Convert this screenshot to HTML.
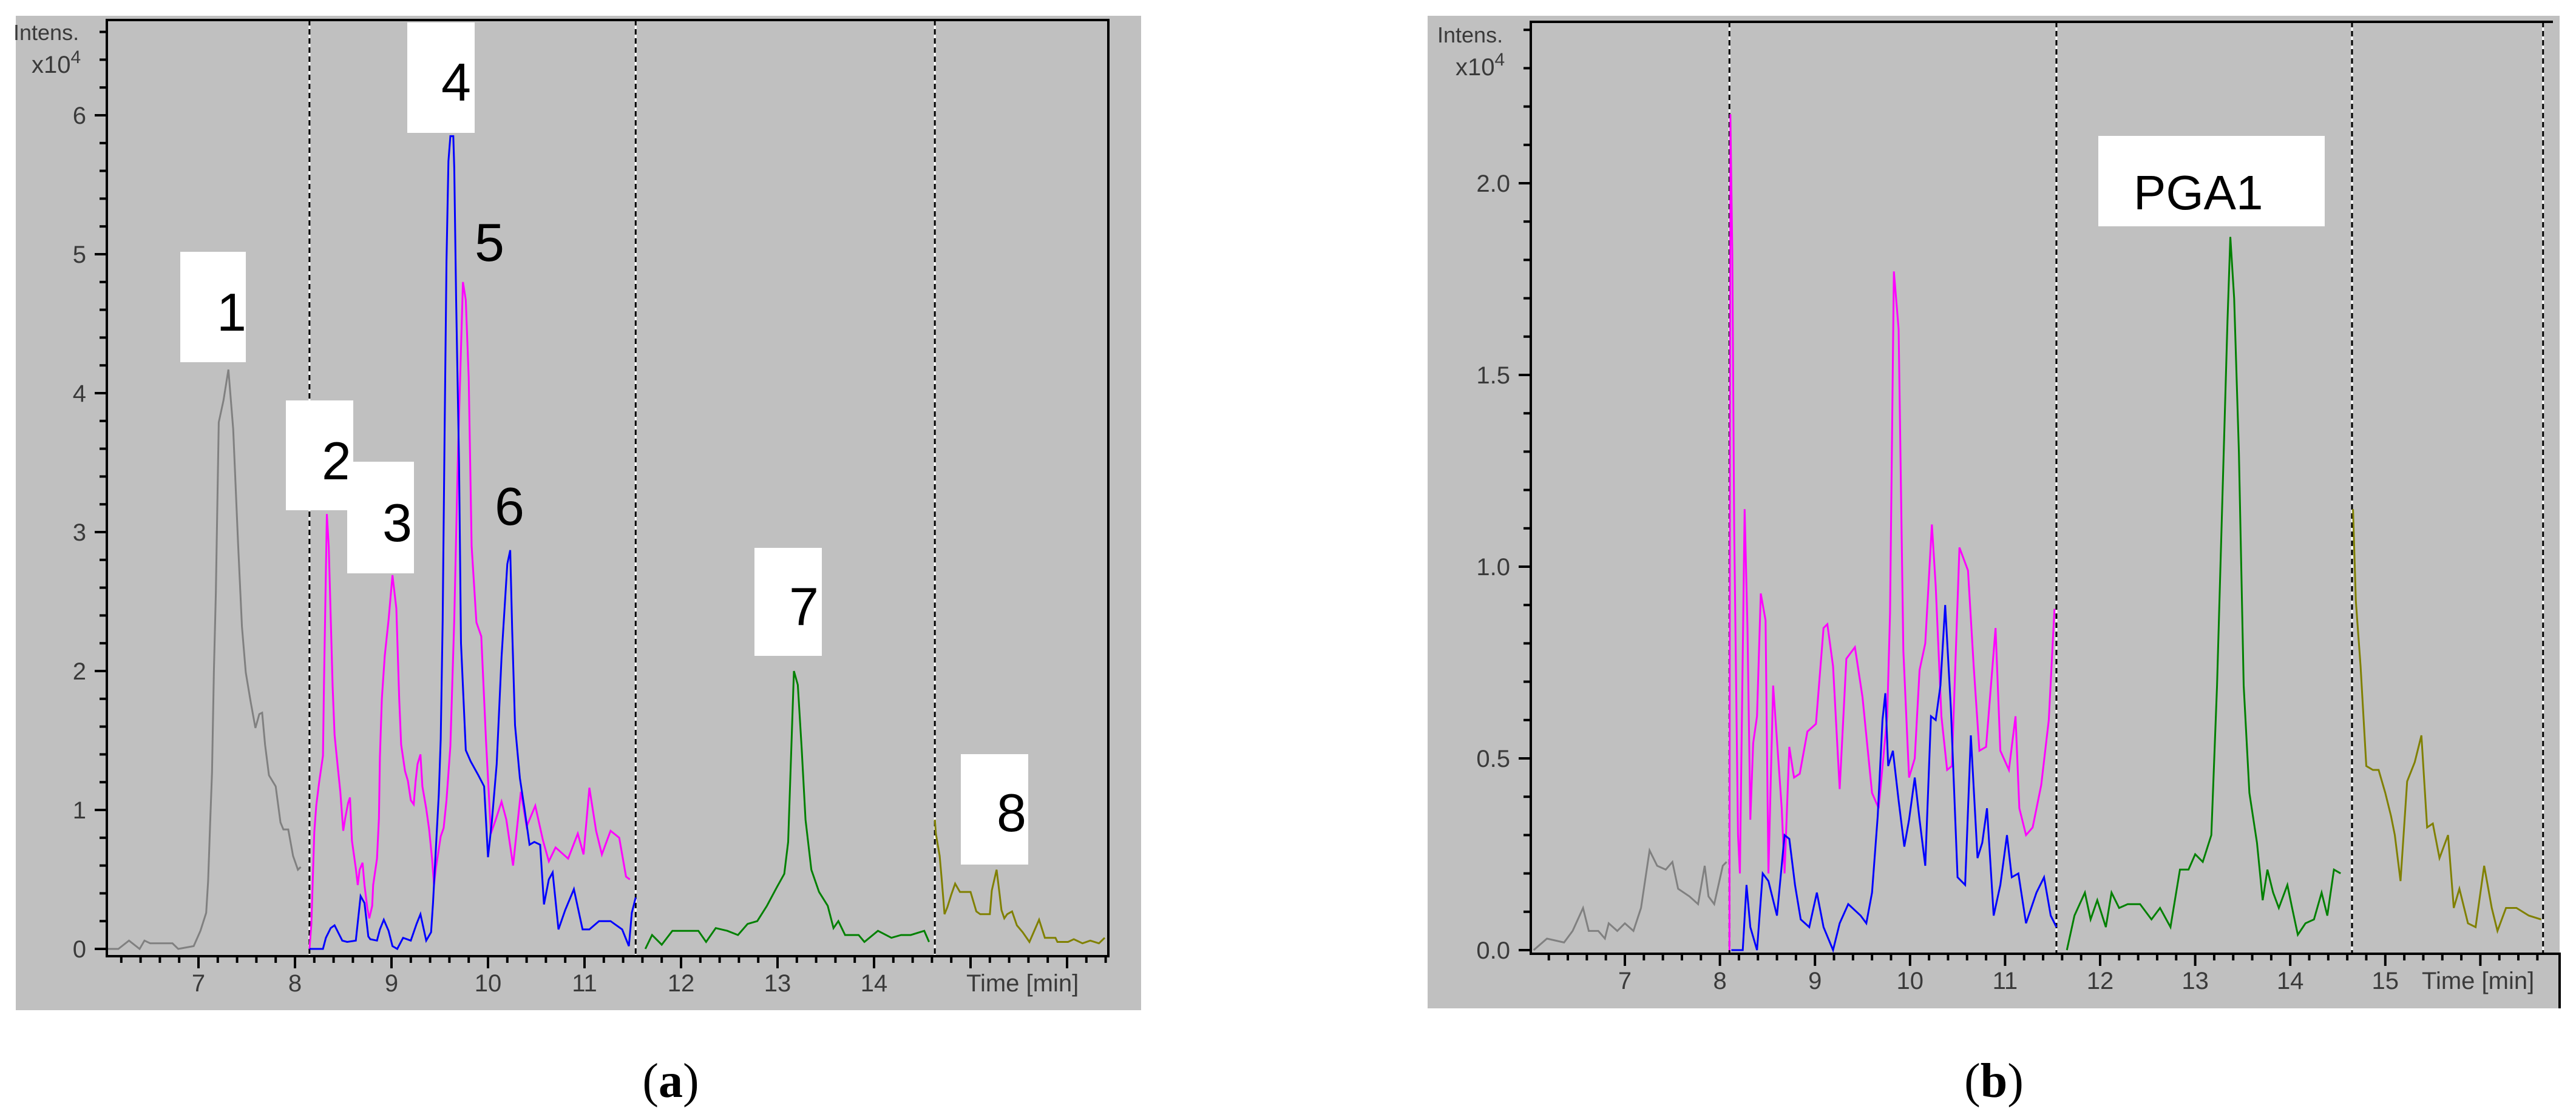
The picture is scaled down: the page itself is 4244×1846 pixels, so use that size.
<!DOCTYPE html>
<html><head><meta charset="utf-8"><style>
html,body{margin:0;padding:0;background:#fff;}
svg{display:block;}
text{font-family:"Liberation Sans",sans-serif;}
</style></head><body>
<svg id="fig" width="4244" height="1846" viewBox="0 0 4244 1846" xmlns="http://www.w3.org/2000/svg">
<rect x="0" y="0" width="4244" height="1846" fill="#ffffff"/>
<g id="panelA"></g>
<g id="panelB"></g>
<text x="1105" y="1808" font-size="80" text-anchor="middle" style="font-family:'Liberation Serif',serif">(<tspan font-weight="bold">a</tspan>)</text>
<text x="3285" y="1808" font-size="80" text-anchor="middle" style="font-family:'Liberation Serif',serif">(<tspan font-weight="bold">b</tspan>)</text>
</svg>
<script>
// ---------- Panel A data (time [min], intensity x10^4) ----------
const aGray = [[6.06,0],[6.17,0],[6.28,0.06],[6.39,0],[6.44,0.06],[6.5,0.04],[6.73,0.04],[6.79,0],[6.95,0.02],[7.02,0.13],[7.08,0.26],[7.1,0.49],[7.12,0.89],[7.14,1.27],[7.16,2.0],[7.18,2.56],[7.21,3.79],[7.26,3.95],[7.31,4.17],[7.36,3.74],[7.41,2.92],[7.45,2.32],[7.49,1.99],[7.54,1.78],[7.59,1.59],[7.63,1.69],[7.66,1.7],[7.69,1.47],[7.73,1.25],[7.8,1.17],[7.85,0.91],[7.88,0.86],[7.93,0.86],[7.98,0.67],[8.03,0.57],[8.06,0.59]];
const aMagenta = [[8.15,0],[8.17,0.18],[8.2,0.84],[8.22,1.03],[8.25,1.2],[8.29,1.39],[8.3,1.89],[8.33,3.13],[8.35,2.9],[8.39,1.89],[8.41,1.54],[8.44,1.33],[8.47,1.13],[8.5,0.85],[8.52,0.94],[8.55,1.05],[8.57,1.09],[8.59,0.78],[8.63,0.58],[8.65,0.46],[8.67,0.57],[8.7,0.62],[8.72,0.46],[8.75,0.29],[8.77,0.22],[8.8,0.31],[8.81,0.46],[8.85,0.65],[8.87,0.94],[8.88,1.38],[8.9,1.8],[8.93,2.11],[8.97,2.37],[9.01,2.69],[9.05,2.45],[9.08,1.8],[9.1,1.47],[9.14,1.28],[9.17,1.21],[9.2,1.07],[9.23,1.04],[9.25,1.21],[9.27,1.33],[9.3,1.4],[9.32,1.17],[9.36,1.01],[9.39,0.86],[9.42,0.65],[9.44,0.46],[9.46,0.58],[9.51,0.81],[9.54,0.87],[9.57,1.07],[9.61,1.46],[9.65,2.37],[9.69,3.6],[9.74,4.8],[9.77,4.67],[9.8,4.11],[9.83,2.9],[9.88,2.35],[9.93,2.25],[9.98,1.49],[10.03,0.83],[10.08,0.93],[10.14,1.06],[10.19,0.93],[10.26,0.6],[10.34,1.13],[10.4,0.88],[10.49,1.03],[10.57,0.78],[10.63,0.63],[10.7,0.73],[10.83,0.65],[10.93,0.83],[10.99,0.68],[11.05,1.16],[11.12,0.85],[11.18,0.68],[11.27,0.85],[11.36,0.8],[11.43,0.52],[11.47,0.5]];
const aBlue = [[8.15,0],[8.29,0],[8.32,0.08],[8.37,0.15],[8.41,0.17],[8.49,0.06],[8.54,0.05],[8.63,0.06],[8.68,0.38],[8.72,0.33],[8.76,0.09],[8.78,0.07],[8.85,0.06],[8.88,0.14],[8.92,0.21],[8.97,0.13],[9.01,0.02],[9.06,0],[9.12,0.08],[9.2,0.06],[9.26,0.18],[9.3,0.25],[9.36,0.06],[9.41,0.12],[9.43,0.33],[9.46,0.72],[9.49,1.11],[9.51,1.51],[9.53,2.36],[9.55,3.72],[9.57,4.95],[9.59,5.67],[9.61,5.85],[9.64,5.85],[9.65,5.62],[9.67,4.67],[9.7,3.49],[9.72,2.2],[9.77,1.43],[9.82,1.35],[9.9,1.25],[9.96,1.17],[10.0,0.66],[10.04,0.92],[10.09,1.33],[10.14,2.1],[10.2,2.77],[10.23,2.87],[10.25,2.3],[10.28,1.61],[10.33,1.23],[10.38,1.0],[10.43,0.75],[10.48,0.77],[10.54,0.75],[10.58,0.32],[10.63,0.5],[10.67,0.55],[10.73,0.14],[10.8,0.28],[10.89,0.43],[10.98,0.14],[11.05,0.14],[11.15,0.2],[11.27,0.2],[11.39,0.14],[11.46,0.02],[11.49,0.26],[11.53,0.37]];
const aGreen = [[11.63,0],[11.7,0.1],[11.8,0.03],[11.91,0.13],[12.18,0.13],[12.26,0.05],[12.36,0.15],[12.48,0.13],[12.59,0.1],[12.69,0.18],[12.79,0.2],[12.89,0.31],[12.99,0.44],[13.07,0.54],[13.11,0.77],[13.14,1.39],[13.17,2.0],[13.21,1.9],[13.25,1.44],[13.29,0.93],[13.35,0.57],[13.43,0.41],[13.52,0.31],[13.58,0.15],[13.63,0.2],[13.7,0.1],[13.84,0.1],[13.9,0.05],[14.04,0.13],[14.18,0.08],[14.28,0.1],[14.38,0.1],[14.52,0.13],[14.57,0.05]];
const aOlive = [[14.63,0.93],[14.64,0.83],[14.68,0.67],[14.7,0.51],[14.72,0.34],[14.73,0.25],[14.76,0.3],[14.8,0.39],[14.84,0.47],[14.89,0.41],[15.0,0.41],[15.06,0.27],[15.1,0.25],[15.2,0.25],[15.22,0.42],[15.27,0.57],[15.3,0.4],[15.32,0.28],[15.35,0.22],[15.38,0.25],[15.43,0.27],[15.48,0.17],[15.54,0.12],[15.61,0.05],[15.71,0.21],[15.77,0.08],[15.88,0.08],[15.9,0.05],[16.01,0.05],[16.07,0.07],[16.16,0.04],[16.24,0.06],[16.33,0.04],[16.39,0.08]];
const aXTicks = [7,8,9,10,11,12,13,14];
const aYTicks = [0,1,2,3,4,5,6];
const aSegments = [8.15,11.53,14.63];

// ---------- Panel B data ----------
const bGray = [[6.04,0],[6.18,0.03],[6.36,0.02],[6.45,0.05],[6.56,0.11],[6.62,0.05],[6.72,0.05],[6.79,0.03],[6.83,0.07],[6.92,0.05],[7.0,0.07],[7.09,0.05],[7.17,0.11],[7.26,0.26],[7.34,0.22],[7.43,0.21],[7.5,0.23],[7.56,0.16],[7.68,0.14],[7.77,0.12],[7.84,0.22],[7.88,0.14],[7.94,0.12],[8.03,0.22],[8.07,0.23]];
const bMagenta = [[8.1,0],[8.11,2.18],[8.13,1.82],[8.15,1.1],[8.19,0.3],[8.21,0.2],[8.26,1.15],[8.29,0.84],[8.32,0.34],[8.35,0.54],[8.39,0.61],[8.43,0.93],[8.48,0.86],[8.51,0.2],[8.56,0.69],[8.65,0.37],[8.68,0.2],[8.73,0.53],[8.78,0.45],[8.84,0.46],[8.92,0.57],[9.01,0.59],[9.09,0.84],[9.13,0.85],[9.19,0.74],[9.26,0.42],[9.33,0.76],[9.42,0.79],[9.5,0.66],[9.6,0.41],[9.67,0.37],[9.76,0.61],[9.79,0.88],[9.83,1.77],[9.88,1.62],[9.93,0.78],[9.99,0.45],[10.05,0.5],[10.1,0.73],[10.16,0.8],[10.23,1.11],[10.27,0.95],[10.33,0.61],[10.39,0.47],[10.44,0.48],[10.52,1.05],[10.61,0.99],[10.67,0.74],[10.73,0.52],[10.8,0.53],[10.9,0.84],[10.95,0.52],[11.04,0.47],[11.11,0.61],[11.15,0.37],[11.22,0.3],[11.29,0.32],[11.38,0.43],[11.46,0.6],[11.52,0.89]];
const bBlue = [[8.12,0],[8.24,0],[8.28,0.17],[8.32,0.06],[8.39,0],[8.45,0.2],[8.51,0.18],[8.6,0.09],[8.68,0.3],[8.73,0.29],[8.79,0.17],[8.85,0.08],[8.94,0.06],[9.02,0.15],[9.09,0.06],[9.19,0],[9.26,0.07],[9.35,0.12],[9.48,0.09],[9.54,0.07],[9.6,0.15],[9.66,0.35],[9.71,0.6],[9.74,0.67],[9.77,0.48],[9.82,0.52],[9.88,0.39],[9.94,0.27],[9.99,0.34],[10.05,0.45],[10.1,0.34],[10.16,0.22],[10.22,0.61],[10.27,0.6],[10.32,0.69],[10.37,0.9],[10.43,0.63],[10.5,0.19],[10.58,0.17],[10.64,0.56],[10.71,0.24],[10.76,0.28],[10.81,0.37],[10.88,0.09],[10.95,0.17],[11.02,0.3],[11.07,0.19],[11.14,0.2],[11.22,0.07],[11.33,0.15],[11.41,0.19],[11.48,0.09],[11.54,0.06]];
const bGreen = [[11.65,0],[11.73,0.09],[11.84,0.15],[11.9,0.08],[11.97,0.13],[12.06,0.06],[12.12,0.15],[12.2,0.11],[12.29,0.12],[12.42,0.12],[12.54,0.08],[12.63,0.11],[12.74,0.06],[12.84,0.21],[12.93,0.21],[13.0,0.25],[13.08,0.23],[13.17,0.3],[13.23,0.69],[13.29,1.21],[13.34,1.64],[13.37,1.86],[13.41,1.7],[13.46,1.3],[13.51,0.69],[13.57,0.41],[13.65,0.28],[13.71,0.13],[13.76,0.21],[13.82,0.15],[13.88,0.11],[13.97,0.17],[14.02,0.11],[14.08,0.04],[14.16,0.07],[14.25,0.08],[14.33,0.15],[14.39,0.09],[14.46,0.21],[14.53,0.2]];
const bOlive = [[14.66,1.15],[14.69,0.91],[14.74,0.74],[14.8,0.48],[14.87,0.47],[14.93,0.47],[15.0,0.41],[15.06,0.35],[15.1,0.3],[15.16,0.18],[15.23,0.44],[15.31,0.49],[15.38,0.56],[15.44,0.32],[15.5,0.33],[15.57,0.24],[15.66,0.3],[15.72,0.11],[15.78,0.16],[15.87,0.07],[15.95,0.06],[16.04,0.22],[16.12,0.11],[16.18,0.05],[16.27,0.11],[16.38,0.11],[16.51,0.09],[16.64,0.08]];
const bXTicks = [7,8,9,10,11,12,13,14,15];
const bYTicks = [0,0.5,1,1.5,2];
const bYLabels = ["0.0","0.5","1.0","1.5","2.0"];
const bSegments = [8.1,11.54,14.65,16.66];

const NS = "http://www.w3.org/2000/svg";
function mk(parent, tag, attrs, text){
  const el = document.createElementNS(NS, tag);
  for (const k in attrs) el.setAttribute(k, attrs[k]);
  if (text !== undefined) el.textContent = text;
  parent.appendChild(el);
  return el;
}

function drawPanel(g, cfg){
  const X = t => cfg.x0 + (t - cfg.t0) * cfg.pxPerMin;
  const Y = v => cfg.y0 - v * cfg.pxPerUnit;
  const bg = mk(g,'rect',{x:cfg.bgX,y:cfg.bgY,width:cfg.bgW,height:cfg.bgH,fill:'#c0c0c0'});
  
  

  // y ticks (minor)
  const tmin = cfg.yMinor;
  for (let v = 0; v <= cfg.yTop + 1e-6; v += tmin){
    const y = Y(v);
    const isMajor = Math.abs(v/cfg.yMajor - Math.round(v/cfg.yMajor)) < 1e-6;
    const tk = mk(g,'line',{x1:cfg.left - (isMajor?20:12),x2:cfg.left - 1,y1:y,y2:y,stroke:'#000','stroke-width':4});
    
    
  }
  cfg.yTicks.forEach((v,i)=>{
    const tx = mk(g,'text',{x:cfg.left-34,y:Y(v)+14,'font-size':40,fill:'#3a3a3a','text-anchor':'end'}, cfg.yLabels? cfg.yLabels[i] : String(v));
    
    
  });
  // x ticks
  for (let t = Math.ceil(cfg.tLeft*5)/5; t <= cfg.tRight + 1e-6; t += 0.2){
    const x = X(t);
    const isMajor = Math.abs(t - Math.round(t)) < 1e-6;
    const tk = mk(g,'line',{x1:x,x2:x,y1:cfg.bottom+1,y2:cfg.bottom + (isMajor?20:11),stroke:'#000','stroke-width':4});
    
    
  }
  cfg.xTicks.forEach(t=>{
    const tx = mk(g,'text',{x:X(t),y:cfg.bottom+58,'font-size':40,fill:'#3a3a3a','text-anchor':'middle'}, String(t));
    
    
  });
  const xt = mk(g,'text',{x:cfg.timeX,y:cfg.bottom+58,'font-size':40,fill:'#3a3a3a'}, 'Time [min]');
  
  
  const it = mk(g,'text',{x:cfg.intX,y:cfg.intY,'font-size':36,fill:'#3a3a3a'}, 'Intens.');
  
  
  const ex = mk(g,'text',{x:cfg.expX,y:cfg.intY+54,'font-size':40,fill:'#3a3a3a'}, 'x10');
  
  
  mk(ex,'tspan',{dy:-16,'font-size':30},'4');

  // segment dashed lines
  cfg.segments.forEach(t=>{
    const x = X(t);
    const w = mk(g,'line',{x1:x,x2:x,y1:cfg.top,y2:cfg.bottom,stroke:'#ffffff','stroke-width':3});
    
    
    const d = mk(g,'line',{x1:x,x2:x,y1:cfg.top,y2:cfg.bottom,stroke:'#000','stroke-width':3,'stroke-dasharray':'9 6'});
    
    
  });

  // series
  cfg.series.forEach(s=>{
    const pts = s.data.map(p=>X(p[0]).toFixed(1)+','+Y(p[1]).toFixed(1)).join(' ');
    const pl = mk(g,'polyline',{points:pts,fill:'none',stroke:s.color,'stroke-width':3,'stroke-linejoin':'miter'});
    
    
  });

  // frame
  const fr = mk(g,'path',{d:cfg.frame,fill:'none',stroke:'#000','stroke-width':4});
  
  

  // label boxes
  cfg.labels.forEach(l=>{
    const lg = mk(g,'g',{});
    
    
    if (l.w) mk(lg,'rect',{x:l.x,y:l.y,width:l.w,height:l.h,fill:'#ffffff'});
    mk(lg,'text',{x:l.tx,y:l.ty,'font-size':l.fs||88,fill:'#000'}, l.text);
  });
  return {X,Y};
}

const A = {
  bgX:26,bgY:26,bgW:1854,bgH:1639,
  left:176, top:33, right:1826, bottom:1576,
  x0:327, t0:7, pxPerMin:159, y0:1564, pxPerUnit:229,
  tLeft:6.05, tRight:16.4, yTop:6.6, yMinor:0.2, yMajor:1,
  xTicks:aXTicks, yTicks:aYTicks, segments:aSegments,
  timeX:1592, intX:22, intY:66, expX:52,
  frame:'M176,33 L1826,33 L1826,1576 L176,1576 Z',
  series:[
    {data:aGray,color:'#808080',name:'trace-a-gray'},
    {data:aMagenta,color:'#ff00ff',name:'trace-a-magenta'},
    {data:aBlue,color:'#0000ff',name:'trace-a-blue'},
    {data:aGreen,color:'#008000',name:'trace-a-green'},
    {data:aOlive,color:'#808000',name:'trace-a-olive'}
  ],
  labels:[
    {text:'1',x:297,y:415,w:108,h:182,tx:357,ty:545},
    {text:'2',x:471,y:660,w:111,h:181,tx:530,ty:790},
    {text:'3',x:572,y:761,w:110,h:184,tx:630,ty:892},
    {text:'4',x:671,y:37,w:111,h:182,tx:727,ty:166},
    {text:'5',tx:782,ty:430},
    {text:'6',tx:815,ty:865},
    {text:'7',x:1243,y:903,w:111,h:178,tx:1300,ty:1030},
    {text:'8',x:1583,y:1243,w:111,h:182,tx:1642,ty:1370}
  ]
};
const B = {
  bgX:2352,bgY:26,bgW:1865,bgH:1636,
  left:2522, top:36, right:4206, bottom:1572,
  x0:2677, t0:7, pxPerMin:156.6, y0:1566, pxPerUnit:632,
  tLeft:6.05, tRight:16.75, yTop:2.4, yMinor:0.1, yMajor:0.5,
  xTicks:bXTicks, yTicks:bYTicks, yLabels:bYLabels, segments:bSegments,
  timeX:3990, intX:2368, intY:70, expX:2398,
  frame:'M4206,36 L2522,36 L2522,1572 L4217,1572 L4217,1662',
  series:[
    {data:bGray,color:'#808080',name:'trace-b-gray'},
    {data:bMagenta,color:'#ff00ff',name:'trace-b-magenta'},
    {data:bBlue,color:'#0000ff',name:'trace-b-blue'},
    {data:bGreen,color:'#008000',name:'trace-b-green'},
    {data:bOlive,color:'#808000',name:'trace-b-olive'}
  ],
  labels:[
    {text:'PGA1',x:3457,y:224,w:373,h:149,tx:3515,ty:345,fs:80}
  ]
};
drawPanel(document.getElementById('panelA'), A);
drawPanel(document.getElementById('panelB'), B);
</script>
</body></html>
